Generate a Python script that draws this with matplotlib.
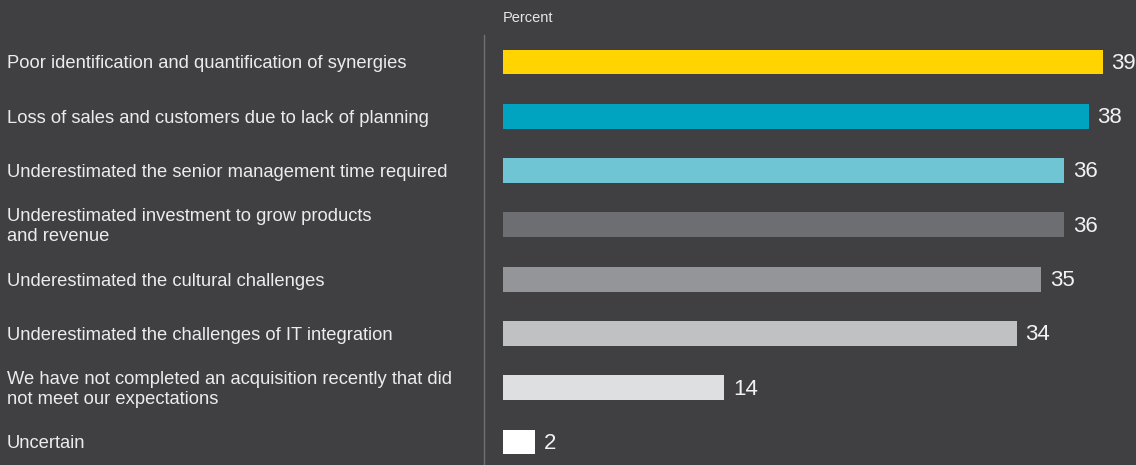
import matplotlib.pyplot as plt
import matplotlib.transforms as mtransforms

categories = [
    "Poor identification and quantification of synergies",
    "Loss of sales and customers due to lack of planning",
    "Underestimated the senior management time required",
    "Underestimated investment to grow products\nand revenue",
    "Underestimated the cultural challenges",
    "Underestimated the challenges of IT integration",
    "We have not completed an acquisition recently that did\nnot meet our expectations",
    "Uncertain",
]
values = [39.0, 38.1, 36.5, 36.5, 35.0, 33.4, 14.4, 2.1]
value_labels = ["39", "38", "36", "36", "35", "34", "14", "2"]
bar_colors = ["#ffd400", "#00a3c0", "#70c5d5", "#6d6e72", "#949599",
              "#c0c1c3", "#dedfe0", "#ffffff"]

bg = "#404042"
fnt = ["Liberation Sans", "DejaVu Sans"]
W, H = 1136, 465
fig = plt.figure(figsize=(W / 100, H / 100), dpi=100, facecolor=bg)

# axes: left spine at x=484px, top at y=35px
ax = fig.add_axes([484 / W, 0, 1 - 484 / W, 430 / H], facecolor=bg)

scale = 15.38  # px per percent
ax.set_xlim(-19 / scale, (W - 484) / scale - 19 / scale)
ax.set_ylim(7 + 23 / 54.3, -27 / 54.3)

ypos = list(range(len(values)))
ax.barh(ypos, values, height=0.46, color=bar_colors, edgecolor="none")

for y, v, t in zip(ypos, values, value_labels):
    ax.annotate(t, (v, y), xytext=(6, -1), textcoords="offset points",
                va="center", ha="left", color="#f2f2f2", fontsize=16,
                family=fnt)

lab_tr = mtransforms.blended_transform_factory(fig.transFigure, ax.transData)
for y, c in zip(ypos, categories):
    ax.text(7 / W, y + 0.035, c, transform=lab_tr, ha="left", va="center",
            color="#ececec", fontsize=13.2, linespacing=1.22, family=fnt)

fig.text(503 / W, 1 - 18 / H, "Percent", ha="left", va="center",
         color="#e6e6e6", fontsize=10.5, family=fnt)

for s in ["top", "right", "bottom"]:
    ax.spines[s].set_visible(False)
ax.spines["left"].set_color("#707073")
ax.spines["left"].set_linewidth(1)
ax.set_xticks([])
ax.set_yticks([])

fig.savefig("out.png", dpi=100, facecolor=bg)
